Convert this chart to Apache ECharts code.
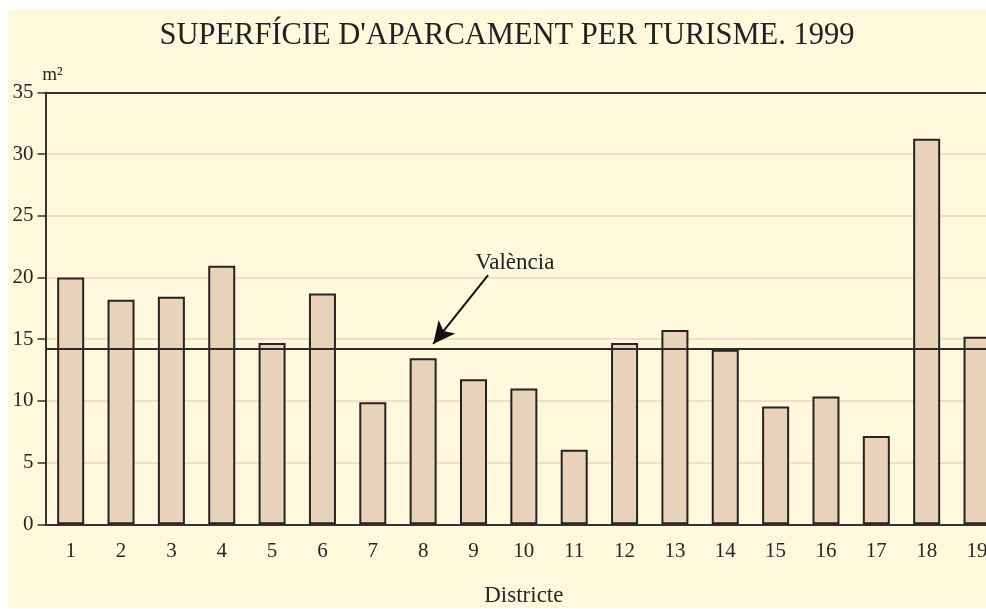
<!DOCTYPE html>
<html>
<head>
<meta charset="utf-8">
<script src="https://cdn.jsdelivr.net/npm/echarts@6/dist/echarts.min.js"></script>
<style>
  html, body { margin: 0; padding: 0; background: #ffffff; }
  #chart { position: absolute; left: 8px; top: 10px; width: 978px; height: 598px; }
</style>
</head>
<body>
<div id="chart"></div>
<script>
// districtes i superficie (m2) per turisme
var districts = ['1','2','3','4','5','6','7','8','9','10','11','12','13','14','15','16','17','18','19'];
var surface = [20.0, 18.2, 18.45, 20.95, 14.7, 18.7, 9.9, 13.45, 11.75, 11.0, 6.05, 14.7, 15.75, 14.15, 9.55, 10.35, 7.15, 31.25, 15.2];
var valenciaAvg = 14.2;
var yTicks = { min: 0, max: 35, step: 5 };
// fletxa "València": des del text fins a la linia (coordenades de dades)
var arrowFrom = [8.29, 20.2];
var arrowTo = [7.2, 14.62];
var valenciaLabelAt = [8.82, 21.2];

var serif = 'Liberation Serif';
var ink = '#2a2626';

var myChart = echarts.init(document.getElementById('chart'));

var option = {
  backgroundColor: '#FFF8DC',
  animation: false,
  title: {
    text: "SUPERFÍCIE D'APARCAMENT PER TURISME. 1999",
    left: 494,
    textAlign: 'center',
    top: 5,
    textStyle: { fontFamily: serif, fontWeight: 'normal', fontSize: 30.5, color: '#222' }
  },
  // la grafica continua mes enlla del marge dret (la barra 19 queda tallada)
  grid: { left: 37.5, width: 956.7, top: 82.5, bottom: 83.7, outerBoundsMode: 'none' },
  xAxis: [{
    type: 'category',
    data: districts,
    name: 'Districte',
    nameLocation: 'middle',
    nameGap: 60,
    nameTextStyle: { fontFamily: serif, fontSize: 23, color: ink },
    axisLine: { lineStyle: { color: '#3a3232', width: 2 } },
    axisTick: { show: false },
    axisLabel: { fontFamily: serif, fontSize: 21, color: ink, margin: 17 }
  }, {
    // eix auxiliar per a la fletxa i la linia superior
    type: 'value',
    position: 'top',
    min: -0.5,
    max: 18.5,
    axisLine: { show: true, onZero: false, lineStyle: { color: '#3a3232', width: 2 } },
    axisTick: { show: false },
    axisLabel: { show: false },
    splitLine: { show: false }
  }],
  yAxis: {
    type: 'value',
    min: yTicks.min,
    max: yTicks.max,
    interval: yTicks.step,
    name: 'm²',
    nameLocation: 'end',
    nameGap: 8,
    nameTextStyle: { fontFamily: serif, fontSize: 19, color: ink, align: 'center', padding: [0, 0, 0, 14] },
    axisLine: { show: true, onZero: false, lineStyle: { color: '#3a3232', width: 2 } },
    axisTick: { show: true, length: 8, lineStyle: { color: '#3a3232', width: 1.5 } },
    axisLabel: { fontFamily: serif, fontSize: 21, color: ink, margin: 12 },
    splitLine: { lineStyle: { color: '#F2D6C2', width: 1.5 } }
  },
  series: [{
    name: 'Superfície',
    type: 'bar',
    data: surface,
    barWidth: 27,
    itemStyle: { color: '#E8D3BA', borderColor: '#282222', borderWidth: 2 },
    markLine: {
      silent: true,
      symbol: 'none',
      label: { show: false },
      lineStyle: { color: '#2f2a2a', width: 2, type: 'solid' },
      data: [{ yAxis: valenciaAvg }]
    }
  }, {
    name: 'fletxa',
    type: 'scatter',
    xAxisIndex: 1,
    data: [],
    markLine: {
      silent: true,
      symbol: ['none', 'arrow'],
      symbolSize: [16, 22],
      label: { show: false },
      lineStyle: { color: '#111', width: 2, type: 'solid' },
      data: [[{ coord: arrowFrom }, { coord: arrowTo }]]
    },
    markPoint: {
      silent: true,
      symbol: 'circle',
      symbolSize: 0,
      label: { show: true, position: 'inside', formatter: 'València', fontFamily: serif, fontSize: 23, color: '#222' },
      data: [{ coord: valenciaLabelAt }]
    }
  }]
};

myChart.setOption(option);
</script>
</body>
</html>
